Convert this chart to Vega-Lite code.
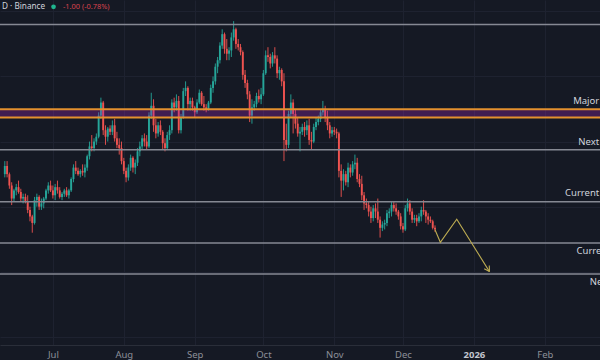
{
  "$schema": "https://vega.github.io/schema/vega-lite/v6.json",
  "width": 600,
  "height": 345,
  "autosize": {"type": "none"},
  "padding": {"left": 0, "top": 0, "right": 0, "bottom": 15},
  "background": "#151924",
  "config": {"view": {"stroke": null}, "font": "Noto Sans"},
  "datasets": {
    "candles": [
      {"d":"2025-06-10","o":160,"h":168,"l":158,"c":165},
      {"d":"2025-06-11","o":165,"h":168,"l":158,"c":160},
      {"d":"2025-06-12","o":160,"h":161,"l":151,"c":153},
      {"d":"2025-06-13","o":153,"h":155,"l":141,"c":145},
      {"d":"2025-06-14","o":145,"h":151,"l":143,"c":150},
      {"d":"2025-06-15","o":150,"h":154,"l":147,"c":152},
      {"d":"2025-06-16","o":152,"h":156,"l":148,"c":149},
      {"d":"2025-06-17","o":149,"h":151,"l":143,"c":145},
      {"d":"2025-06-18","o":145,"h":148,"l":142,"c":146},
      {"d":"2025-06-19","o":146,"h":148,"l":142,"c":143},
      {"d":"2025-06-20","o":143,"h":147,"l":136,"c":138},
      {"d":"2025-06-21","o":138,"h":140,"l":131,"c":134},
      {"d":"2025-06-22","o":134,"h":135,"l":124,"c":130},
      {"d":"2025-06-23","o":130,"h":146,"l":129,"c":144},
      {"d":"2025-06-24","o":144,"h":148,"l":140,"c":146},
      {"d":"2025-06-25","o":146,"h":147,"l":138,"c":140},
      {"d":"2025-06-26","o":140,"h":145,"l":138,"c":142},
      {"d":"2025-06-27","o":142,"h":146,"l":139,"c":145},
      {"d":"2025-06-28","o":145,"h":151,"l":144,"c":150},
      {"d":"2025-06-29","o":150,"h":155,"l":148,"c":153},
      {"d":"2025-06-30","o":153,"h":156,"l":149,"c":150},
      {"d":"2025-07-01","o":150,"h":153,"l":145,"c":147},
      {"d":"2025-07-02","o":147,"h":154,"l":144,"c":152},
      {"d":"2025-07-03","o":152,"h":156,"l":148,"c":150},
      {"d":"2025-07-04","o":150,"h":152,"l":145,"c":146},
      {"d":"2025-07-05","o":146,"h":149,"l":144,"c":148},
      {"d":"2025-07-06","o":148,"h":151,"l":146,"c":150},
      {"d":"2025-07-07","o":150,"h":152,"l":146,"c":147},
      {"d":"2025-07-08","o":147,"h":151,"l":145,"c":150},
      {"d":"2025-07-09","o":150,"h":158,"l":149,"c":157},
      {"d":"2025-07-10","o":157,"h":166,"l":155,"c":164},
      {"d":"2025-07-11","o":164,"h":168,"l":160,"c":162},
      {"d":"2025-07-12","o":162,"h":164,"l":159,"c":160},
      {"d":"2025-07-13","o":160,"h":163,"l":158,"c":162},
      {"d":"2025-07-14","o":162,"h":166,"l":159,"c":161},
      {"d":"2025-07-15","o":161,"h":166,"l":158,"c":164},
      {"d":"2025-07-16","o":164,"h":172,"l":162,"c":171},
      {"d":"2025-07-17","o":171,"h":180,"l":169,"c":177},
      {"d":"2025-07-18","o":177,"h":184,"l":174,"c":176},
      {"d":"2025-07-19","o":176,"h":182,"l":174,"c":180},
      {"d":"2025-07-20","o":180,"h":185,"l":178,"c":183},
      {"d":"2025-07-21","o":183,"h":198,"l":182,"c":196},
      {"d":"2025-07-22","o":196,"h":207,"l":194,"c":204},
      {"d":"2025-07-23","o":204,"h":205,"l":184,"c":187},
      {"d":"2025-07-24","o":187,"h":190,"l":178,"c":183},
      {"d":"2025-07-25","o":183,"h":189,"l":180,"c":188},
      {"d":"2025-07-26","o":188,"h":190,"l":184,"c":186},
      {"d":"2025-07-27","o":186,"h":193,"l":184,"c":190},
      {"d":"2025-07-28","o":190,"h":194,"l":180,"c":182},
      {"d":"2025-07-29","o":182,"h":186,"l":176,"c":178},
      {"d":"2025-07-30","o":178,"h":182,"l":172,"c":176},
      {"d":"2025-07-31","o":176,"h":180,"l":166,"c":168},
      {"d":"2025-08-01","o":168,"h":170,"l":160,"c":162},
      {"d":"2025-08-02","o":162,"h":164,"l":155,"c":158},
      {"d":"2025-08-03","o":158,"h":166,"l":156,"c":164},
      {"d":"2025-08-04","o":164,"h":172,"l":162,"c":170},
      {"d":"2025-08-05","o":170,"h":171,"l":161,"c":164},
      {"d":"2025-08-06","o":164,"h":169,"l":160,"c":167},
      {"d":"2025-08-07","o":167,"h":176,"l":165,"c":174},
      {"d":"2025-08-08","o":174,"h":180,"l":171,"c":177},
      {"d":"2025-08-09","o":177,"h":184,"l":175,"c":182},
      {"d":"2025-08-10","o":182,"h":185,"l":177,"c":180},
      {"d":"2025-08-11","o":180,"h":184,"l":175,"c":177},
      {"d":"2025-08-12","o":177,"h":198,"l":176,"c":196},
      {"d":"2025-08-13","o":196,"h":210,"l":194,"c":202},
      {"d":"2025-08-14","o":202,"h":206,"l":186,"c":190},
      {"d":"2025-08-15","o":190,"h":194,"l":182,"c":185},
      {"d":"2025-08-16","o":185,"h":192,"l":183,"c":190},
      {"d":"2025-08-17","o":190,"h":193,"l":184,"c":186},
      {"d":"2025-08-18","o":186,"h":187,"l":175,"c":179},
      {"d":"2025-08-19","o":179,"h":182,"l":174,"c":176},
      {"d":"2025-08-20","o":176,"h":186,"l":175,"c":184},
      {"d":"2025-08-21","o":184,"h":190,"l":181,"c":187},
      {"d":"2025-08-22","o":187,"h":206,"l":185,"c":204},
      {"d":"2025-08-23","o":204,"h":207,"l":198,"c":201},
      {"d":"2025-08-24","o":201,"h":209,"l":199,"c":205},
      {"d":"2025-08-25","o":205,"h":208,"l":185,"c":187},
      {"d":"2025-08-26","o":187,"h":197,"l":185,"c":195},
      {"d":"2025-08-27","o":195,"h":213,"l":194,"c":211},
      {"d":"2025-08-28","o":211,"h":217,"l":208,"c":213},
      {"d":"2025-08-29","o":213,"h":214,"l":199,"c":203},
      {"d":"2025-08-30","o":203,"h":207,"l":199,"c":205},
      {"d":"2025-08-31","o":205,"h":207,"l":199,"c":201},
      {"d":"2025-09-01","o":201,"h":202,"l":195,"c":198},
      {"d":"2025-09-02","o":198,"h":206,"l":197,"c":204},
      {"d":"2025-09-03","o":204,"h":212,"l":203,"c":210},
      {"d":"2025-09-04","o":210,"h":211,"l":202,"c":203},
      {"d":"2025-09-05","o":203,"h":208,"l":199,"c":201},
      {"d":"2025-09-06","o":201,"h":203,"l":198,"c":200},
      {"d":"2025-09-07","o":200,"h":205,"l":199,"c":204},
      {"d":"2025-09-08","o":204,"h":215,"l":203,"c":213},
      {"d":"2025-09-09","o":213,"h":220,"l":210,"c":217},
      {"d":"2025-09-10","o":217,"h":228,"l":215,"c":226},
      {"d":"2025-09-11","o":226,"h":232,"l":222,"c":230},
      {"d":"2025-09-12","o":230,"h":241,"l":228,"c":239},
      {"d":"2025-09-13","o":239,"h":249,"l":237,"c":246},
      {"d":"2025-09-14","o":246,"h":247,"l":234,"c":237},
      {"d":"2025-09-15","o":237,"h":243,"l":230,"c":234},
      {"d":"2025-09-16","o":234,"h":238,"l":230,"c":236},
      {"d":"2025-09-17","o":236,"h":247,"l":232,"c":244},
      {"d":"2025-09-18","o":244,"h":254,"l":242,"c":249},
      {"d":"2025-09-19","o":249,"h":250,"l":237,"c":240},
      {"d":"2025-09-20","o":240,"h":243,"l":236,"c":238},
      {"d":"2025-09-21","o":238,"h":240,"l":233,"c":235},
      {"d":"2025-09-22","o":235,"h":236,"l":218,"c":221},
      {"d":"2025-09-23","o":221,"h":224,"l":213,"c":216},
      {"d":"2025-09-24","o":216,"h":218,"l":206,"c":209},
      {"d":"2025-09-25","o":209,"h":211,"l":192,"c":196},
      {"d":"2025-09-26","o":196,"h":206,"l":191,"c":201},
      {"d":"2025-09-27","o":201,"h":205,"l":199,"c":203},
      {"d":"2025-09-28","o":203,"h":210,"l":201,"c":208},
      {"d":"2025-09-29","o":208,"h":212,"l":204,"c":206},
      {"d":"2025-09-30","o":206,"h":213,"l":203,"c":209},
      {"d":"2025-10-01","o":209,"h":224,"l":208,"c":222},
      {"d":"2025-10-02","o":222,"h":236,"l":221,"c":233},
      {"d":"2025-10-03","o":233,"h":238,"l":229,"c":232},
      {"d":"2025-10-04","o":232,"h":234,"l":225,"c":228},
      {"d":"2025-10-05","o":228,"h":235,"l":226,"c":233},
      {"d":"2025-10-06","o":233,"h":238,"l":228,"c":231},
      {"d":"2025-10-07","o":231,"h":233,"l":219,"c":222},
      {"d":"2025-10-08","o":222,"h":226,"l":218,"c":224},
      {"d":"2025-10-09","o":224,"h":225,"l":214,"c":217},
      {"d":"2025-10-10","o":217,"h":222,"l":168,"c":181},
      {"d":"2025-10-11","o":181,"h":191,"l":174,"c":178},
      {"d":"2025-10-12","o":178,"h":199,"l":176,"c":197},
      {"d":"2025-10-13","o":197,"h":209,"l":195,"c":204},
      {"d":"2025-10-14","o":204,"h":206,"l":185,"c":197},
      {"d":"2025-10-15","o":197,"h":200,"l":188,"c":191},
      {"d":"2025-10-16","o":191,"h":195,"l":183,"c":185},
      {"d":"2025-10-17","o":185,"h":189,"l":174,"c":186},
      {"d":"2025-10-18","o":186,"h":191,"l":184,"c":189},
      {"d":"2025-10-19","o":189,"h":192,"l":183,"c":187},
      {"d":"2025-10-20","o":187,"h":193,"l":184,"c":190},
      {"d":"2025-10-21","o":190,"h":194,"l":178,"c":181},
      {"d":"2025-10-22","o":181,"h":186,"l":175,"c":180},
      {"d":"2025-10-23","o":180,"h":191,"l":179,"c":189},
      {"d":"2025-10-24","o":189,"h":195,"l":187,"c":192},
      {"d":"2025-10-25","o":192,"h":196,"l":190,"c":194},
      {"d":"2025-10-26","o":194,"h":200,"l":192,"c":198},
      {"d":"2025-10-27","o":198,"h":205,"l":196,"c":200},
      {"d":"2025-10-28","o":200,"h":202,"l":192,"c":195},
      {"d":"2025-10-29","o":195,"h":199,"l":187,"c":190},
      {"d":"2025-10-30","o":190,"h":192,"l":182,"c":185},
      {"d":"2025-10-31","o":185,"h":189,"l":183,"c":187},
      {"d":"2025-11-01","o":187,"h":189,"l":184,"c":186},
      {"d":"2025-11-02","o":186,"h":188,"l":182,"c":185},
      {"d":"2025-11-03","o":185,"h":186,"l":158,"c":162},
      {"d":"2025-11-04","o":162,"h":166,"l":146,"c":156},
      {"d":"2025-11-05","o":156,"h":163,"l":150,"c":160},
      {"d":"2025-11-06","o":160,"h":162,"l":153,"c":155},
      {"d":"2025-11-07","o":155,"h":167,"l":152,"c":164},
      {"d":"2025-11-08","o":164,"h":166,"l":158,"c":161},
      {"d":"2025-11-09","o":161,"h":168,"l":159,"c":166},
      {"d":"2025-11-10","o":166,"h":172,"l":163,"c":167},
      {"d":"2025-11-11","o":167,"h":170,"l":155,"c":157},
      {"d":"2025-11-12","o":157,"h":160,"l":152,"c":154},
      {"d":"2025-11-13","o":154,"h":159,"l":144,"c":147},
      {"d":"2025-11-14","o":147,"h":149,"l":138,"c":142},
      {"d":"2025-11-15","o":142,"h":145,"l":139,"c":141},
      {"d":"2025-11-16","o":141,"h":143,"l":134,"c":137},
      {"d":"2025-11-17","o":137,"h":140,"l":130,"c":133},
      {"d":"2025-11-18","o":133,"h":141,"l":131,"c":139},
      {"d":"2025-11-19","o":139,"h":142,"l":133,"c":137},
      {"d":"2025-11-20","o":137,"h":145,"l":130,"c":132},
      {"d":"2025-11-21","o":132,"h":134,"l":121,"c":127},
      {"d":"2025-11-22","o":127,"h":131,"l":125,"c":129},
      {"d":"2025-11-23","o":129,"h":132,"l":126,"c":130},
      {"d":"2025-11-24","o":130,"h":138,"l":128,"c":136},
      {"d":"2025-11-25","o":136,"h":139,"l":133,"c":137},
      {"d":"2025-11-26","o":137,"h":143,"l":134,"c":141},
      {"d":"2025-11-27","o":141,"h":143,"l":137,"c":139},
      {"d":"2025-11-28","o":139,"h":142,"l":135,"c":137},
      {"d":"2025-11-29","o":137,"h":138,"l":132,"c":134},
      {"d":"2025-11-30","o":134,"h":136,"l":126,"c":128},
      {"d":"2025-12-01","o":128,"h":130,"l":124,"c":126},
      {"d":"2025-12-02","o":126,"h":141,"l":125,"c":139},
      {"d":"2025-12-03","o":139,"h":145,"l":137,"c":142},
      {"d":"2025-12-04","o":142,"h":144,"l":135,"c":137},
      {"d":"2025-12-05","o":137,"h":139,"l":130,"c":132},
      {"d":"2025-12-06","o":132,"h":135,"l":130,"c":133},
      {"d":"2025-12-07","o":133,"h":135,"l":128,"c":131},
      {"d":"2025-12-08","o":131,"h":136,"l":130,"c":134},
      {"d":"2025-12-09","o":134,"h":140,"l":131,"c":138},
      {"d":"2025-12-10","o":138,"h":144,"l":135,"c":137},
      {"d":"2025-12-11","o":137,"h":138,"l":130,"c":134},
      {"d":"2025-12-12","o":134,"h":136,"l":129,"c":132},
      {"d":"2025-12-13","o":132,"h":134,"l":130,"c":131},
      {"d":"2025-12-14","o":131,"h":132,"l":126,"c":127},
      {"d":"2025-12-15","o":127,"h":128.5,"l":124.5,"c":126}
    ],
    "grayLevels": [{"p": 252}, {"p": 175}, {"p": 143}, {"p": 117.7}, {"p": 98.6}],
    "orangeLevels": [{"p": 199.8}, {"p": 194.8}],
    "band": [{"lo": 194.8, "hi": 199.8, "start": "2025-05-01", "end": "2026-04-30"}],
    "path": [
      {"d": "2025-12-15T00:00:00Z", "p": 125.8},
      {"d": "2025-12-17T08:00:00Z", "p": 118.1},
      {"d": "2025-12-24T12:00:00Z", "p": 132.3},
      {"d": "2026-01-07T19:00:00Z", "p": 100.1}
    ],
    "arrow": [
      {"d": "2026-01-07T19:00:00Z", "p": 100.1, "d2": "2026-01-07T17:00:00Z", "p2": 103.8},
      {"d": "2026-01-07T19:00:00Z", "p": 100.1, "d2": "2026-01-05T12:00:00Z", "p2": 101.8}
    ],
    "labels": [
      {"t": "Major Resistance", "p": 205.0},
      {"t": "Next Resistance", "p": 179.8},
      {"t": "Current Resistance", "p": 148.5},
      {"t": "Current Support", "p": 112.8},
      {"t": "Next Support", "p": 93.7}
    ]
  },
  "layer": [
    {
      "data": {"name": "candles"},
      "mark": {"type": "rule", "strokeWidth": 0.9},
      "encoding": {
        "x": {
          "field": "d", "type": "temporal", "title": null,
          "scale": {"type": "utc", "domain": [
            {"year": 2025, "month": 6, "date": 10, "hours": 2, "utc": true},
            {"year": 2026, "month": 2, "date": 22, "hours": 22, "utc": true}
          ]},
          "axis": {
            "values": [
              {"year": 2025, "month": 7, "date": 1, "utc": true},
              {"year": 2025, "month": 8, "date": 1, "utc": true},
              {"year": 2025, "month": 9, "date": 1, "utc": true},
              {"year": 2025, "month": 10, "date": 1, "utc": true},
              {"year": 2025, "month": 11, "date": 1, "utc": true},
              {"year": 2025, "month": 12, "date": 1, "utc": true},
              {"year": 2026, "month": 1, "date": 1, "utc": true},
              {"year": 2026, "month": 2, "date": 1, "utc": true}
            ],
            "labelExpr": "utcmonth(datum.value) == 0 ? utcFormat(datum.value, '%Y') : utcFormat(datum.value, '%b')",
            "labelColor": {"condition": {"test": "utcmonth(datum.value) == 0", "value": "#c3c6cf"}, "value": "#8c8f99"},
            "labelFontWeight": {"condition": {"test": "utcmonth(datum.value) == 0", "value": "bold"}, "value": "normal"},
            "labelFontSize": 9.5,
            "labelPadding": 4,
            "tickSize": 0,
            "domainColor": "#2a2e39",
            "grid": true,
            "gridColor": "#1e2230"
          }
        },
        "y": {
          "field": "l", "type": "quantitative", "title": null,
          "scale": {"domain": [55, 267], "nice": false, "zero": false},
          "axis": {
            "labels": false, "ticks": false, "domain": false, "grid": true,
            "gridColor": "#1e2230",
            "values": [60, 80, 100, 120, 140, 160, 180, 200, 220, 240, 260]
          }
        },
        "y2": {"field": "h"},
        "color": {"condition": {"test": "datum.c >= datum.o", "value": "#26a69a"}, "value": "#ef5350"}
      }
    },
    {
      "data": {"name": "candles"},
      "mark": {"type": "bar", "size": 1.9},
      "encoding": {
        "x": {"field": "d", "type": "temporal", "title": null},
        "y": {"field": "o", "type": "quantitative", "title": null},
        "y2": {"field": "c"},
        "color": {"condition": {"test": "datum.c >= datum.o", "value": "#26a69a"}, "value": "#ef5350"}
      }
    },
    {
      "data": {"name": "band"},
      "mark": {"type": "rect", "color": "#9c27b0", "opacity": 0.32, "clip": true},
      "encoding": {
        "x": {"field": "start", "type": "temporal", "title": null},
        "x2": {"field": "end"},
        "y": {"field": "lo", "type": "quantitative", "title": null},
        "y2": {"field": "hi"}
      }
    },
    {
      "data": {"name": "grayLevels"},
      "mark": {"type": "rule", "color": "#868993", "strokeWidth": 1.5},
      "encoding": {
        "y": {"field": "p", "type": "quantitative", "title": null}
      }
    },
    {
      "data": {"name": "orangeLevels"},
      "mark": {"type": "rule", "color": "#e3912e", "strokeWidth": 2},
      "encoding": {
        "y": {"field": "p", "type": "quantitative", "title": null}
      }
    },
    {
      "data": {"name": "path"},
      "mark": {"type": "line", "color": "#bcab52", "strokeWidth": 1.1},
      "encoding": {
        "x": {"field": "d", "type": "temporal", "title": null},
        "y": {"field": "p", "type": "quantitative", "title": null}
      }
    },
    {
      "data": {"name": "arrow"},
      "mark": {"type": "rule", "color": "#bcab52", "strokeWidth": 1.1},
      "encoding": {
        "x": {"field": "d", "type": "temporal", "title": null},
        "x2": {"field": "d2"},
        "y": {"field": "p", "type": "quantitative", "title": null},
        "y2": {"field": "p2"}
      }
    },
    {
      "data": {"name": "labels"},
      "mark": {"type": "text", "align": "right", "baseline": "middle", "fontSize": 9.5, "color": "#d1d4dc"},
      "encoding": {
        "x": {"datum": {"year": 2026, "month": 3, "date": 18, "hours": 13, "utc": true}, "type": "temporal"},
        "y": {"field": "p", "type": "quantitative", "title": null},
        "text": {"field": "t"}
      }
    },
    {
      "data": {"values": [{"t": "D · Binance"}]},
      "mark": {"type": "text", "align": "left", "baseline": "middle", "fontSize": 8.2, "color": "#d1d4dc", "dx": -3},
      "encoding": {
        "x": {"datum": {"year": 2025, "month": 6, "date": 10, "hours": 2, "utc": true}, "type": "temporal"},
        "y": {"datum": 262.5, "type": "quantitative"},
        "text": {"field": "t"}
      }
    },
    {
      "data": {"values": [{"t": "-1.00 (-0.78%)"}]},
      "mark": {"type": "text", "align": "left", "baseline": "middle", "fontSize": 7.4, "color": "#d9434e"},
      "encoding": {
        "x": {"datum": {"year": 2025, "month": 7, "date": 5, "hours": 10, "utc": true}, "type": "temporal"},
        "y": {"datum": 262.5, "type": "quantitative"},
        "text": {"field": "t"}
      }
    },
    {
      "data": {"values": [{"t": "live"}]},
      "mark": {"type": "point", "filled": true, "size": 22, "color": "#1fb58e", "opacity": 1},
      "encoding": {
        "x": {"datum": {"year": 2025, "month": 7, "date": 1, "hours": 7, "utc": true}, "type": "temporal"},
        "y": {"datum": 262.8, "type": "quantitative"}
      }
    }
  ]
}
